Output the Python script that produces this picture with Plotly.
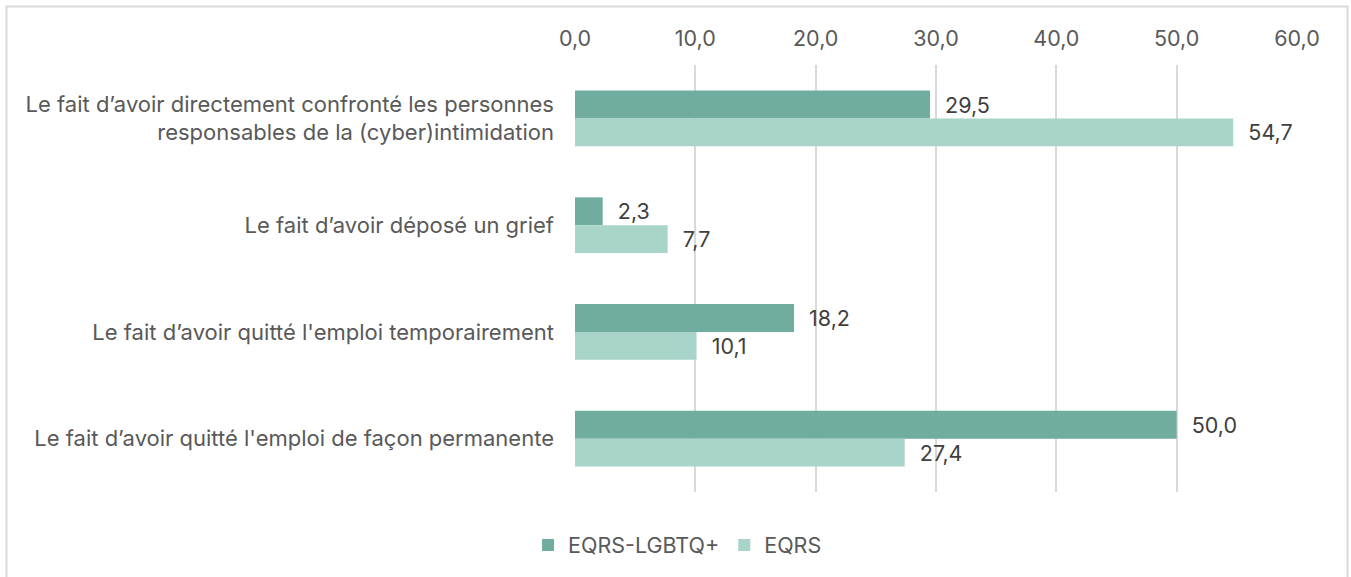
import plotly.graph_objects as go

categories = [
    "Le fait d’avoir directement confronté les personnes<br>responsables de la (cyber)intimidation",
    "Le fait d’avoir déposé un grief",
    "Le fait d’avoir quitté l'emploi temporairement",
    "Le fait d’avoir quitté l'emploi de façon permanente",
]
series_names = ["EQRS-LGBTQ+", "EQRS"]
lgbtq_values = [29.5, 2.3, 18.2, 50.0]
eqrs_values = [54.7, 7.7, 10.1, 27.4]
tick_vals = [0, 10, 20, 30, 40, 50, 60]
tick_text = ["0,0", "10,0", "20,0", "30,0", "40,0", "50,0", "60,0"]

colors = ["#70AD9F", "#A8D4C9"]
FONT = "Inter"
FS = 21.5

fig = go.Figure()
for name, vals, col in zip(series_names, [lgbtq_values, eqrs_values], colors):
    fig.add_trace(go.Bar(
        y=categories, x=vals, name=name, orientation="h",
        marker=dict(color=col, line=dict(width=0)),
        text=["  " + f"{v:.1f}".replace(".", ",") for v in vals],
        textposition="outside", cliponaxis=False,
        textfont=dict(family=FONT, size=FS, color="#404040"),
    ))

L, R, T, B = 575, 54, 65, 85
W, H = 1351, 577
pw, ph = W - L - R, H - T - B

fig.update_layout(
    width=W, height=H,
    margin=dict(l=L, r=R, t=T, b=B),
    paper_bgcolor="white", plot_bgcolor="white",
    barmode="group", bargap=0.48, bargroupgap=0,
    font=dict(family=FONT, size=FS, color="#595959"),
    xaxis=dict(
        range=[0, 60], tickvals=tick_vals, ticktext=tick_text, side="top",
        showgrid=True, gridcolor="#D9D9D9", gridwidth=2,
        zeroline=False, showline=False, ticks="",
        ticklabelstandoff=14,
        tickfont=dict(family=FONT, size=FS, color="#595959"),
    ),
    yaxis=dict(
        autorange="reversed", showgrid=False, zeroline=False, showline=False,
        ticks="", ticklabelstandoff=20,
        tickfont=dict(family=FONT, size=22, color="#595959"),
    ),
    showlegend=True,
    legend=dict(
        orientation="h", x=0.142, xanchor="center", y=(492 - 545) / ph, yanchor="middle",
        font=dict(family=FONT, size=FS, color="#595959"),
        itemwidth=30, traceorder="normal",
    ),
    shapes=[dict(
        type="rect", xref="paper", yref="paper",
        x0=(6.5 - L) / pw, x1=(1347.5 - L) / pw,
        y0=(H - B - 600) / ph, y1=1 + (T - 6.5) / ph,
        line=dict(color="#D9D9D9", width=2), fillcolor="rgba(0,0,0,0)", layer="below",
    )],
)

fig.write_html("out.html", config={"displayModeBar": False},
               post_script="document.body.style.margin='0px';")
